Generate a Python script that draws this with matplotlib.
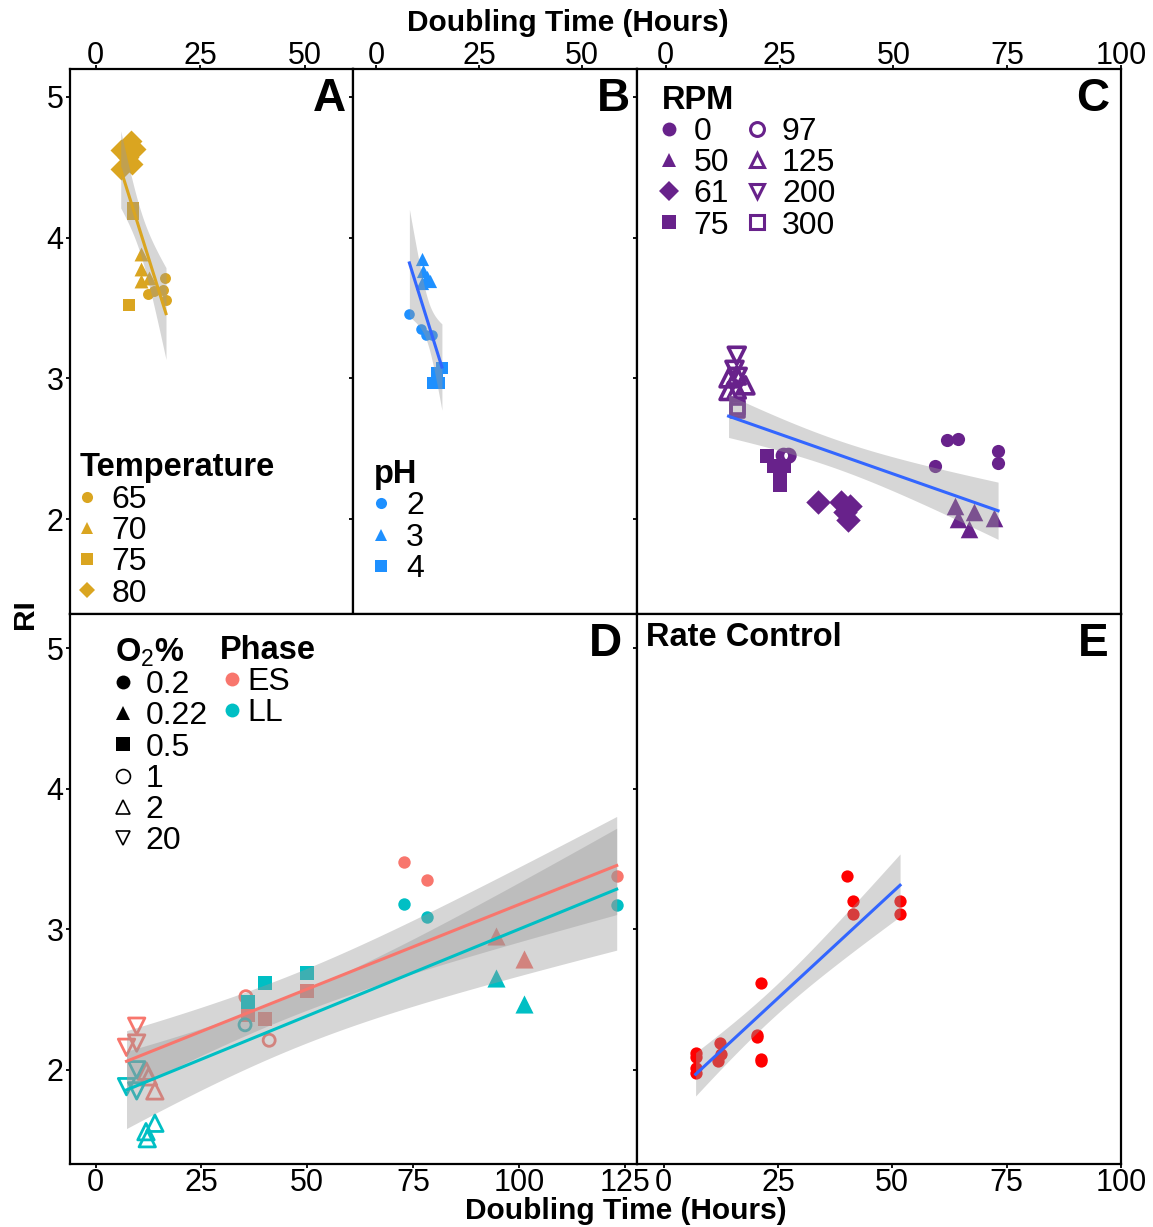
import numpy as np
import matplotlib
matplotlib.use("Agg")
import matplotlib.pyplot as plt
from matplotlib.lines import Line2D

plt.rcParams["font.family"] = ["Liberation Sans", "DejaVu Sans"]
plt.rcParams["mathtext.fontset"] = "custom"
plt.rcParams["mathtext.rm"] = "Liberation Sans"
plt.rcParams["mathtext.bf"] = "Liberation Sans:bold"

# ── data ──────────────────────────────────────────────────────────────────
# A: temperature
a_temp = [65, 65, 65, 65, 65, 70, 70, 70, 70, 75, 75, 75, 80, 80, 80, 80, 80, 80]
a_x = [16.6, 12.4, 14.0, 16.2, 16.8, 10.8, 10.8, 10.8, 12.8, 9.0, 8.9, 8.0,
       8.4, 6.0, 9.5, 8.8, 6.1, 7.7]
a_y = [3.71, 3.60, 3.62, 3.63, 3.56, 3.88, 3.78, 3.69, 3.71, 4.21, 4.17, 3.52,
       4.69, 4.62, 4.63, 4.52, 4.49, 4.57]
temp_levels = [65, 70, 75, 80]

# B: pH
b_ph = [2, 2, 2, 2, 3, 3, 3, 3, 3, 4, 4, 4, 4]
b_x = [8.0, 10.7, 12.1, 13.5, 11.1, 11.3, 13.1, 11.1, 12.2, 15.9, 14.7, 13.7, 15.1]
b_y = [3.46, 3.35, 3.31, 3.31, 3.85, 3.76, 3.69, 3.68, 3.72, 3.07, 3.04, 2.97, 2.97]
ph_levels = [2, 3, 4]

# C: RPM
c_rpm = [0, 0, 0, 0, 0, 50, 50, 50, 50, 50, 61, 61, 61, 61, 61,
         75, 75, 75, 75, 75, 97, 97, 97, 125, 125, 125, 125, 125,
         200, 200, 200, 300, 300]
c_x = [61.7, 64.2, 59.2, 73.0, 73.0, 63.5, 64.2, 67.8, 66.7, 72.2,
       33.5, 38.4, 40.5, 39.3, 40.1, 22.2, 23.7, 25.9, 25.1, 25.1,
       25.9, 27.0, 26.4, 13.8, 15.6, 17.5, 13.8, 15.6, 15.6, 15.1, 15.8,
       15.8, 15.8]
c_y = [2.56, 2.57, 2.38, 2.48, 2.40, 2.09, 2.00, 2.05, 1.93, 2.01,
       2.12, 2.12, 2.09, 2.05, 1.99, 2.45, 2.38, 2.38, 2.30, 2.24,
       2.45, 2.45, 2.44, 3.00, 3.02, 2.95, 2.91, 2.92, 3.16, 3.06, 3.01,
       2.79, 2.77]
rpm_levels = [0, 50, 61, 75, 97, 125, 200, 300]

# D: O2 % and growth phase
d_phase = ["ES"] * 16 + ["LL"] * 15
d_o2 = ["0.2", "0.2", "0.2", "0.22", "0.22", "0.5", "0.5", "0.5", "1", "1",
        "2", "2", "2", "20", "20", "20",
        "0.2", "0.2", "0.2", "0.22", "0.22", "0.5", "0.5", "0.5", "1",
        "2", "2", "2", "20", "20", "20"]
d_x = [72.9, 78.2, 123.1, 94.7, 101.3, 36.1, 40.0, 49.9, 35.5, 41.0,
       12.0, 14.0, 12.5, 9.7, 9.7, 7.3,
       72.9, 78.2, 123.1, 94.7, 101.3, 36.1, 40.0, 49.9, 35.3,
       14.0, 11.9, 12.2, 9.7, 7.3, 9.7]
d_y = [3.48, 3.35, 3.38, 2.95, 2.79, 2.39, 2.36, 2.56, 2.52, 2.21,
       1.99, 1.85, 1.95, 2.31, 2.19, 2.16,
       3.18, 3.09, 3.17, 2.65, 2.47, 2.48, 2.62, 2.69, 2.32,
       1.62, 1.56, 1.51, 2.00, 1.88, 1.85]
o2_levels = ["0.2", "0.22", "0.5", "1", "2", "20"]
phase_levels = ["ES", "LL"]

# E: rate control
e_x = [7.0, 7.0, 7.0, 7.0, 12.3, 12.5, 12.0, 20.5, 20.5, 21.4, 21.4, 21.4,
       40.1, 41.4, 41.4, 51.7, 51.7]
e_y = [2.12, 2.09, 2.01, 1.98, 2.19, 2.11, 2.06, 2.25, 2.23, 2.62, 2.08, 2.06,
       3.38, 3.20, 3.11, 3.20, 3.11]

# ── style ─────────────────────────────────────────────────────────────────
GOLD = "#DAA520"
DODGER = "#1E90FF"
PURPLE = "#68228B"
SMOOTH_BLUE = "#3366FF"
PHASE_COLORS = {"ES": "#F8766D", "LL": "#00BFC4"}
RIBBON = "#999999"
FS = 22          # tick labels
LEG_FS = 23      # legend labels
LEG_TFS = 23.5   # legend titles

# marker, filled?
TEMP_MK = {65: ("o", True), 70: ("^", True), 75: ("s", True), 80: ("D", True)}
PH_MK = {2: ("o", True), 3: ("^", True), 4: ("s", True)}
RPM_MK = {0: ("o", True), 50: ("^", True), 61: ("D", True), 75: ("s", True),
          97: ("o", False), 125: ("^", False), 200: ("v", False), 300: ("s", False)}
O2_MK = {"0.2": ("o", True), "0.22": ("^", True), "0.5": ("s", True),
         "1": ("o", False), "2": ("^", False), "20": ("v", False)}

# scatter marker areas per panel
SIZE_A = {"o": 62, "^": 100, "s": 68, "D": 125}
SIZE_B = {"o": 58, "^": 90, "s": 70}
SIZE_C = {"o": 90, "^": 160, "s": 100, "D": 155, "v": 160}
SIZE_C_OPEN = {"o": 80, "^": 150, "s": 90, "v": 150}
SIZE_D = {"o": 80, "^": 170, "s": 105}
SIZE_D_OPEN = {"o": 75, "^": 140, "v": 140}
SIZE_E = 78


def t975(df):
    # Cornish-Fisher expansion of the 97.5% Student-t quantile
    z = 1.959964
    g1 = (z**3 + z) / 4
    g2 = (5 * z**5 + 16 * z**3 + 3 * z) / 96
    g3 = (3 * z**7 + 19 * z**5 + 17 * z**3 - 15 * z) / 384
    return z + g1 / df + g2 / df**2 + g3 / df**3


def add_smooth(ax, x, y, color):
    """geom_smooth(method='lm') lookalike: 95% band + fitted line."""
    x = np.asarray(x, float)
    y = np.asarray(y, float)
    n = len(x)
    slope, icpt = np.polyfit(x, y, 1)
    xs = np.linspace(x.min(), x.max(), 100)
    fit = icpt + slope * xs
    resid = y - (icpt + slope * x)
    s = np.sqrt(np.sum(resid**2) / (n - 2))
    se = s * np.sqrt(1 / n + (xs - x.mean())**2 / np.sum((x - x.mean())**2))
    half = t975(n - 2) * se
    ax.fill_between(xs, fit - half, fit + half, color=RIBBON, alpha=0.4,
                    lw=0, zorder=3)
    ax.plot(xs, fit, color=color, lw=2.2, zorder=4)


def scatter_group(ax, x, y, mk, filled, color, size, ew=2.0):
    if filled:
        ax.scatter(x, y, marker=mk, s=size, color=color, lw=0, zorder=2)
    else:
        ax.scatter(x, y, marker=mk, s=size, facecolor="none",
                   edgecolor=color, lw=ew, zorder=2)


def handle(mk, filled, color, ms=9, ew=1.5):
    return Line2D([], [], ls="none", marker=mk, markersize=ms,
                  markerfacecolor=color if filled else "none",
                  markeredgecolor=color, markeredgewidth=0 if filled else ew)


def style_axes(ax, top_row, ylabels, xlim, ylim, xticks):
    ax.set_xlim(*xlim)
    ax.set_ylim(*ylim)
    ax.set_xticks(xticks)
    ax.set_yticks([2, 3, 4, 5])
    for sp in ax.spines.values():
        sp.set_linewidth(1.6)
        sp.set_color("black")
    ax.tick_params(direction="out", length=2.6, width=1.3, labelsize=FS,
                   colors="black")
    ax.tick_params(axis="y", pad=2, left=True, right=False, labelleft=ylabels)
    if top_row:
        ax.tick_params(axis="x", top=True, bottom=False, labeltop=True,
                       labelbottom=False, pad=-3.5)
    else:
        ax.tick_params(axis="x", top=False, bottom=True, labeltop=False,
                       labelbottom=True, pad=0.5)


def panel_letter(ax, letter):
    ax.text(0.975, 0.985, letter, transform=ax.transAxes, ha="right", va="top",
            fontsize=33, fontweight="bold", zorder=6)


def add_legend(ax, handles, labels, title, anchor, loc, ncol=1,
               hlen=0.45, hpad=0.55, colsp=0.7):
    leg = ax.legend(handles, labels, title=title, loc=loc,
                    bbox_to_anchor=anchor, ncol=ncol, frameon=False,
                    fontsize=LEG_FS,
                    title_fontproperties={"weight": "bold", "size": LEG_TFS},
                    alignment="left", handlelength=hlen, handletextpad=hpad,
                    labelspacing=0.04, columnspacing=colsp, borderpad=0,
                    borderaxespad=0)
    return leg


W, H = 1153, 1227
fig = plt.figure(figsize=(W / 100, H / 100), dpi=100)


def rect(x0, y0, x1, y1):
    return [x0 / W, 1 - y1 / H, (x1 - x0) / W, (y1 - y0) / H]


axA = fig.add_axes(rect(70, 69.3, 353, 614))
axB = fig.add_axes(rect(353, 69.3, 636.6, 614))
axC = fig.add_axes(rect(636.6, 69.3, 1121, 614))
axD = fig.add_axes(rect(70, 614, 636.6, 1164))
axE = fig.add_axes(rect(636.6, 614, 1121, 1164))

TOP_YLIM = (1.325, 5.196)
BOT_YLIM = (1.33, 5.242)

# ── A ────────────────────────────────────────────────────────────────────
ax = axA
ax_x, ax_y = np.array(a_x), np.array(a_y)
for lvl in temp_levels:
    m = np.array(a_temp) == lvl
    mk, filled = TEMP_MK[lvl]
    scatter_group(ax, ax_x[m], ax_y[m], mk, filled, GOLD, SIZE_A[mk])
add_smooth(ax, a_x, a_y, GOLD)
style_axes(ax, True, True, (-6.1, 61.4), TOP_YLIM, [0, 25, 50])
panel_letter(ax, "A")
add_legend(ax, [handle(TEMP_MK[l][0], True, GOLD, ms=8) for l in temp_levels],
           [str(l) for l in temp_levels], "Temperature", (0.035, 0.01),
           "lower left")

# ── B ────────────────────────────────────────────────────────────────────
ax = axB
bx, by = np.array(b_x), np.array(b_y)
for lvl in ph_levels:
    m = np.array(b_ph) == lvl
    mk, filled = PH_MK[lvl]
    scatter_group(ax, bx[m], by[m], mk, filled, DODGER, SIZE_B[mk])
add_smooth(ax, b_x, b_y, SMOOTH_BLUE)
style_axes(ax, True, False, (-5.7, 63.2), TOP_YLIM, [0, 25, 50])
panel_letter(ax, "B")
add_legend(ax, [handle(PH_MK[l][0], True, DODGER, ms=8) for l in ph_levels],
           [str(l) for l in ph_levels], "pH", (0.075, 0.055), "lower left")

# ── C ────────────────────────────────────────────────────────────────────
ax = axC
cx, cy = np.array(c_x), np.array(c_y)
for lvl in rpm_levels:
    m = np.array(c_rpm) == lvl
    mk, filled = RPM_MK[lvl]
    size = SIZE_C[mk] if filled else SIZE_C_OPEN[mk]
    scatter_group(ax, cx[m], cy[m], mk, filled, PURPLE, size, ew=2.6)
add_smooth(ax, c_x, c_y, SMOOTH_BLUE)
style_axes(ax, True, False, (-6.4, 100), TOP_YLIM, [0, 25, 50, 75, 100])
panel_letter(ax, "C")
add_legend(ax, [handle(RPM_MK[l][0], RPM_MK[l][1], PURPLE, ms=10, ew=2.2)
                for l in rpm_levels],
           [str(l) for l in rpm_levels], "RPM", (0.052, 0.972), "upper left",
           ncol=2, colsp=0.65)

# ── D ────────────────────────────────────────────────────────────────────
ax = axD
dx, dy = np.array(d_x), np.array(d_y)
for ph in phase_levels:
    for lvl in o2_levels:
        m = (np.array(d_phase) == ph) & (np.array(d_o2) == lvl)
        if not m.any():
            continue
        mk, filled = O2_MK[lvl]
        size = SIZE_D[mk] if filled else SIZE_D_OPEN[mk]
        scatter_group(ax, dx[m], dy[m], mk, filled, PHASE_COLORS[ph], size,
                      ew=2.0)
for ph in phase_levels:
    m = np.array(d_phase) == ph
    add_smooth(ax, dx[m], dy[m], PHASE_COLORS[ph])
style_axes(ax, False, True, (-6.05, 127.8), BOT_YLIM,
           [0, 25, 50, 75, 100, 125])
panel_letter(ax, "D")
leg1 = add_legend(ax, [handle(O2_MK[l][0], O2_MK[l][1], "black", ms=10, ew=1.2)
                       for l in o2_levels],
                  o2_levels, r"$\mathbf{O}_{\mathrm{2}}\mathbf{\%}$",
                  (0.08, 0.96), "upper left", hlen=0.5, hpad=0.45)
ax.add_artist(leg1)
add_legend(ax, [handle("o", True, PHASE_COLORS[p], ms=10) for p in phase_levels],
           phase_levels, "Phase", (0.264, 0.962), "upper left",
           hlen=0.75, hpad=0.12)

# ── E ────────────────────────────────────────────────────────────────────
ax = axE
scatter_group(ax, e_x, e_y, "o", True, "#FF0000", SIZE_E)
add_smooth(ax, e_x, e_y, SMOOTH_BLUE)
style_axes(ax, False, False, (-5.9, 100), BOT_YLIM, [0, 25, 50, 75, 100])
panel_letter(ax, "E")
ax.text(0.02, 0.985, "Rate Control", transform=ax.transAxes, ha="left",
        va="top", fontsize=LEG_TFS, fontweight="bold")

# ── shared axis titles ───────────────────────────────────────────────────
fig.text(568 / W, 1 - 23 / H, "Doubling Time (Hours)", ha="center",
         va="center", fontsize=21.5, fontweight="bold")
fig.text(626 / W, 1 - 1211 / H, "Doubling Time (Hours)", ha="center",
         va="center", fontsize=21.5, fontweight="bold")
fig.text(25 / W, 1 - 614 / H, "RI", ha="center", va="center", rotation=90,
         fontsize=21.5, fontweight="bold")

fig.savefig("out.png", dpi=100, facecolor="white")
